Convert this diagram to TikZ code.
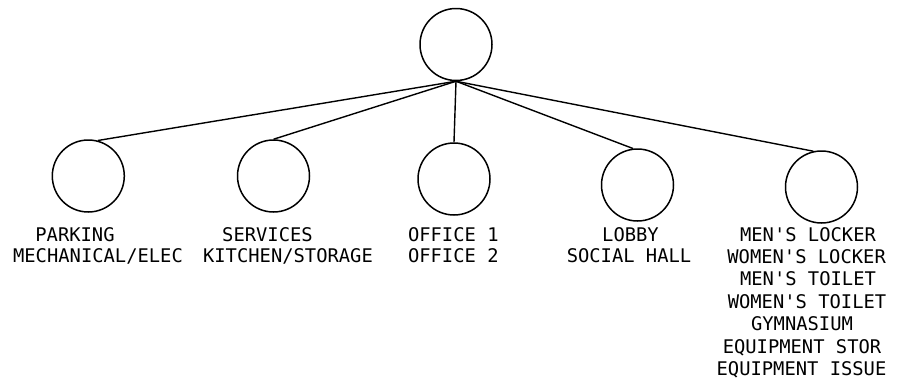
\documentclass[tikz,border=0pt]{standalone}
\usepackage{fontspec}
\newfontfamily\plotfont{DejaVu Sans Mono}
\begin{document}
\begin{tikzpicture}[x=1pt,y=1pt,
  space/.style={draw, circle, minimum size=72pt, inner sep=0pt, line width=1.5pt},
  link/.style={line width=1.4pt},
  lbl/.style={inner sep=0pt, anchor=base, font=\plotfont\fontsize{18.8}{20}\selectfont}]
  \useasboundingbox (0,0) rectangle (898,-381);

  % root space and the five program groups
  \node[space] (root) at (456,-44.5) {};
  \node[space] (park) at (88.3,-176) {};
  \node[space] (serv) at (273.5,-176) {};
  \node[space] (offc) at (454,-179) {};
  \node[space] (lobb) at (637.5,-185) {};
  \node[space] (lock) at (821.5,-187) {};

  % connectors fanning out from the bottom of the root
  \coordinate (hub) at (root.south);
  \draw[link] (hub) -- (park.75);
  \draw[link] (hub) -- (serv.90);
  \draw[link] (hub) -- (offc.90);
  \draw[link] (hub) -- (lobb.97);
  \draw[link] (hub) -- (lock.103);

  % labels
  \node[lbl] (p1) at (75,-241) {PARKING};
  \node[lbl] (p2) at (98,-262) {MECHANICAL/ELEC};
  \node[lbl] (s1) at (267.5,-241) {SERVICES};
  \node[lbl] (s2) at (288,-262) {KITCHEN/STORAGE};
  \node[lbl] (o1) at (453.3,-241) {OFFICE 1};
  \node[lbl] (o2) at (453.3,-262) {OFFICE 2};
  \node[lbl] (l1) at (630.5,-241) {LOBBY};
  \node[lbl] (l2) at (629,-262) {SOCIAL HALL};
  \node[lbl] (k1) at (808,-241) {MEN'S LOCKER};
  \node[lbl] (k2) at (806.6,-263.4) {WOMEN'S LOCKER};
  \node[lbl] (k3) at (808,-285.8) {MEN'S TOILET};
  \node[lbl] (k4) at (807,-308.2) {WOMEN'S TOILET};
  \node[lbl] (k5) at (802,-330.6) {GYMNASIUM};
  \node[lbl] (k6) at (802,-353) {EQUIPMENT STOR};
  \node[lbl] (k7) at (801.5,-375.4) {EQUIPMENT ISSUE};
\end{tikzpicture}
\end{document}
